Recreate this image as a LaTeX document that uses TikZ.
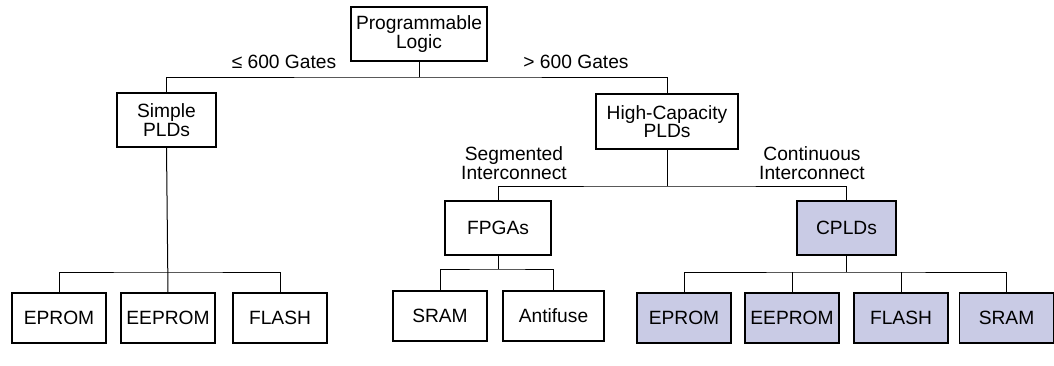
\documentclass[tikz,border=0pt]{standalone}
\usepackage{fontspec}
\setmainfont{Liberation Sans}
\definecolor{lav}{HTML}{C9CBE5}
\begin{document}
\begin{tikzpicture}[x=1pt,y=-1pt,
  every node/.style={font=\fontsize{19.2}{18.5}\selectfont},
  box/.style={draw, line width=1.1pt, align=center, inner sep=0pt},
  bx/.style={box, minimum height=50pt, minimum width=94pt},
  hl/.style={fill=lav},
  lbl/.style={align=center, inner sep=0pt},
  conn/.style={line width=1pt}]
\useasboundingbox (0,0) rectangle (1054,365);
% top
\node[box, minimum width=136pt, minimum height=54pt] (prog) at (419,34) {Programmable\\Logic};
\node[box, minimum width=99pt, minimum height=54pt] (simple) at (166.5,120) {Simple\\PLDs};
\node[box, minimum width=142pt, minimum height=55pt] (hc) at (667,121.5) {High-Capacity\\PLDs};
\node[box, minimum width=106pt, minimum height=54pt] (fpga) at (498,228) {FPGAs};
\node[box, hl, minimum width=99pt, minimum height=54pt] (cpld) at (846.5,228) {CPLDs};
% bottom left
\node[bx] (ep1) at (59,318) {EPROM};
\node[bx] (eep1) at (168,318) {EEPROM};
\node[bx] (fl1) at (280,318) {FLASH};
% fpga children
\node[bx] (sr1) at (440,316) {SRAM};
\node[bx, minimum width=101pt] (af) at (553.5,316) {Antifuse};
% cpld children
\node[bx, hl] (ep2) at (684,318) {EPROM};
\node[bx, hl] (eep2) at (792,318) {EEPROM};
\node[bx, hl] (fl2) at (901,318) {FLASH};
\node[bx, hl] (sr2) at (1006.5,318) {SRAM};
% labels
\node[lbl] (l1) at (284,62) {≤ 600 Gates};
\node[lbl] (l2) at (576,62) {> 600 Gates};
\node[lbl] (l3) at (514,163) {Segmented\\Interconnect};
\node[lbl] (l4) at (812,163) {Continuous\\Interconnect};
% connectors
\coordinate (j1) at (419,77);
\draw[conn] (prog.south) -- (prog.south |- j1);
\draw[conn] (simple.north) |- (j1) -| (hc.north);
\coordinate (j2) at (166.5,272);
\draw[conn] (simple.south) -- (eep1.north);
\draw[conn] (ep1.north) |- (j2) -| (fl1.north);
\coordinate (j3) at (667,186);
\draw[conn] (hc.south) -- (j3);
\draw[conn] (fpga.north) |- (j3) -| (cpld.north);
\coordinate (j4) at (498,269);
\draw[conn] (fpga.south) -- (j4);
\draw[conn] (sr1.north) |- (j4) -| (af.north);
\coordinate (j5) at (846.5,272);
\draw[conn] (cpld.south) -- (j5);
\draw[conn] (ep2.north) |- (j5) -| (sr2.north);
\draw[conn] (eep2.north) -- (eep2.north |- j5);
\draw[conn] (fl2.north) -- (fl2.north |- j5);
\end{tikzpicture}
\end{document}
